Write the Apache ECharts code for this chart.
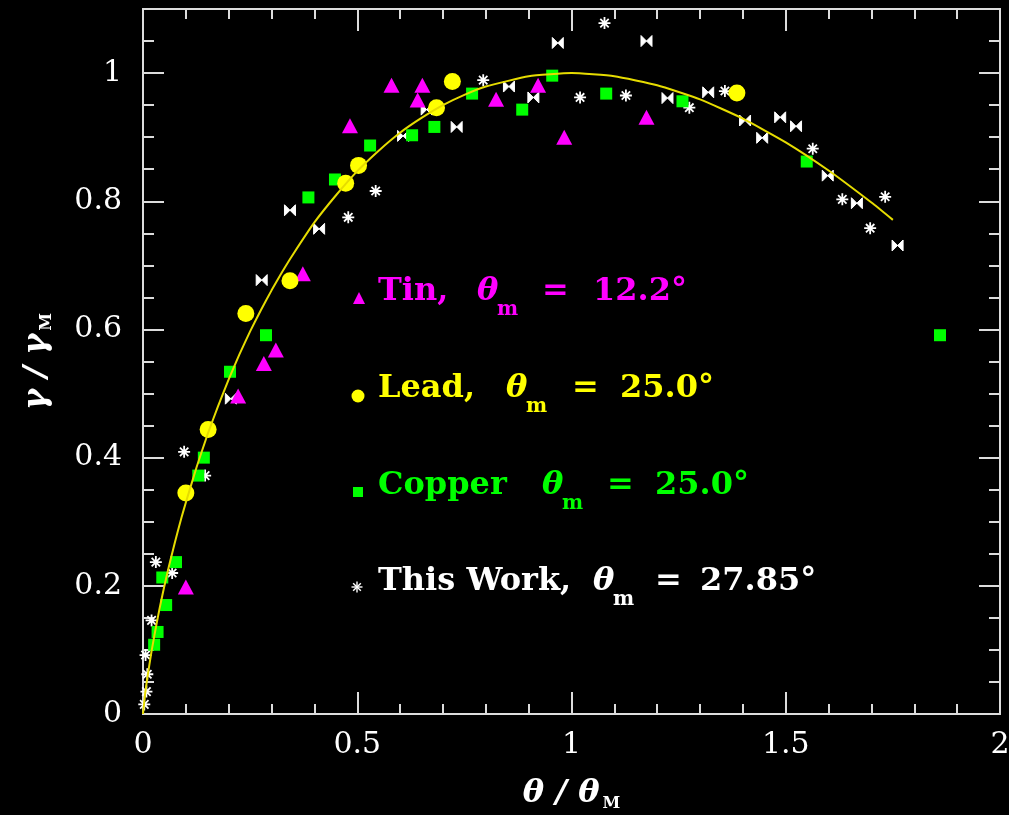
<!DOCTYPE html>
<html>
<head>
<meta charset="utf-8">
<script src="https://cdn.jsdelivr.net/npm/echarts@6/dist/echarts.min.js"></script>
<style>
  html, body { margin: 0; padding: 0; background: #000; overflow: hidden; }
  #chart { width: 1009px; height: 815px; }
</style>
</head>
<body>
<div id="chart"></div>
<script>
// Reduced grain-boundary energy gamma/gamma_M against misorientation theta/theta_M

// Tin, theta_m = 12.2 deg
const tin = [
  [0.100, 0.198], [0.222, 0.496], [0.282, 0.547], [0.310, 0.568], [0.373, 0.687],
  [0.483, 0.918], [0.580, 0.981], [0.641, 0.958], [0.652, 0.981], [0.824, 0.959],
  [0.922, 0.981], [0.983, 0.900], [1.175, 0.931]
];

// Lead, theta_m = 25.0 deg
const lead = [
  [0.100, 0.345], [0.152, 0.444], [0.240, 0.625], [0.343, 0.676], [0.473, 0.828],
  [0.503, 0.856], [0.685, 0.946], [0.722, 0.987], [1.386, 0.969]
];

// Copper, theta_m = 25.0 deg
const copper = [
  [0.026, 0.108], [0.034, 0.128], [0.045, 0.213], [0.054, 0.170], [0.077, 0.237],
  [0.129, 0.372], [0.142, 0.400], [0.203, 0.534], [0.287, 0.591], [0.386, 0.806],
  [0.448, 0.834], [0.530, 0.887], [0.628, 0.903], [0.680, 0.916], [0.768, 0.968],
  [0.885, 0.943], [0.955, 0.996], [1.081, 0.968], [1.259, 0.956], [1.549, 0.862],
  [1.860, 0.591]
];

// This work, theta_m = 27.85 deg (two point styles)
const thisWorkStar = [
  [0.003, 0.015], [0.008, 0.035], [0.010, 0.062], [0.006, 0.092], [0.020, 0.146],
  [0.030, 0.237], [0.068, 0.220], [0.096, 0.409], [0.145, 0.372], [0.479, 0.775],
  [0.543, 0.816], [0.794, 0.989], [1.020, 0.962], [1.077, 1.078], [1.127, 0.965],
  [1.275, 0.946], [1.358, 0.972], [1.563, 0.882], [1.632, 0.803], [1.697, 0.758],
  [1.732, 0.807]
];
const thisWorkBow = [
  [0.205, 0.492], [0.277, 0.677], [0.343, 0.786], [0.411, 0.757], [0.607, 0.902],
  [0.662, 0.943], [0.732, 0.916], [0.854, 0.979], [0.911, 0.962], [0.968, 1.047],
  [1.175, 1.050], [1.224, 0.961], [1.319, 0.970], [1.405, 0.926], [1.445, 0.899],
  [1.487, 0.931], [1.524, 0.917], [1.598, 0.840], [1.666, 0.797], [1.761, 0.731]
];

// Read-Shockley curve, sampled points
const curveX = [0, 0.005, 0.01, 0.02, 0.03, 0.04, 0.05, 0.06, 0.07, 0.08, 0.09, 0.10, 0.125,
  0.15, 0.175, 0.20, 0.225, 0.25, 0.275, 0.30, 0.325, 0.35, 0.40, 0.45, 0.50, 0.55, 0.60, 0.65,
  0.70, 0.75, 0.80, 0.90, 1.00, 1.10, 1.20, 1.30, 1.40, 1.50, 1.60, 1.70, 1.75];
const curveY = [0, 0.032, 0.056, 0.098, 0.135, 0.169, 0.200, 0.229, 0.256, 0.282, 0.307, 0.330, 0.385,
  0.435, 0.480, 0.522, 0.561, 0.597, 0.630, 0.661, 0.690, 0.717, 0.767, 0.809, 0.847, 0.879, 0.907, 0.930,
  0.950, 0.966, 0.979, 0.995, 1.000, 0.995, 0.981, 0.959, 0.929, 0.892, 0.848, 0.798, 0.771];

const xTickLabels = ['0', '0.5', '1', '1.5', '2'];
const yTickLabels = ['0', '0.2', '0.4', '0.6', '0.8', '1'];

const FONT = 'DejaVu Serif';
const FRAME = '#dcdcdc';
const TIN_C = '#ff00ff', LEAD_C = '#ffff00', CU_C = '#00ff00', WORK_C = '#ffffff', CURVE_C = '#e6dc00';

const ASTERISK = 'path://M0,-5L0,5M-5,0L5,0M-3.5,-3.5L3.5,3.5M-3.5,3.5L3.5,-3.5';
const BOWTIE = 'path://M-5,-5L5,5L5,-5L-5,5Z';

function xAxisDef(position, withLabels) {
  return {
    type: 'value', position: position, min: 0, max: 2, interval: 0.5,
    axisLine: { show: true, onZero: false, lineStyle: { color: FRAME, width: 2 } },
    axisTick: { show: true, inside: true, length: 22, lineStyle: { color: FRAME, width: 2 } },
    minorTick: { show: true, splitNumber: 5, length: 10, lineStyle: { color: FRAME, width: 2 } },
    splitLine: { show: false }, minorSplitLine: { show: false },
    axisLabel: {
      show: withLabels, margin: 16, color: '#fff', fontFamily: FONT, fontSize: 30,
      formatter: v => xTickLabels[Math.round(v / 0.5)] ?? ''
    },
    name: withLabels ? '{a|θ / θ}{s|M}' : '', nameLocation: 'middle', nameGap: 62,
    nameTextStyle: {
      rich: {
        a: { color: '#fff', fontFamily: FONT, fontSize: 32, fontWeight: 'bold', fontStyle: 'italic' },
        s: { color: '#fff', fontFamily: FONT, fontSize: 16, fontWeight: 'bold', padding: [20, 0, 0, 3] }
      }
    }
  };
}

function yAxisDef(position, major, withLabels) {
  return {
    type: 'value', position: position, min: 0, max: 1.1, interval: major ? 0.2 : 0.05,
    axisLine: { show: true, onZero: false, lineStyle: { color: FRAME, width: 2 } },
    axisTick: { show: true, inside: true, length: major ? 21 : 11, lineStyle: { color: FRAME, width: 2 } },
    splitLine: { show: false },
    axisLabel: {
      show: withLabels, margin: 21, color: '#fff', fontFamily: FONT, fontSize: 30,
      formatter: v => (v > 1.05 ? '' : (yTickLabels[Math.round(v / 0.2)] ?? ''))
    },
    name: withLabels ? '{a|γ / γ}{s|M}' : '', nameLocation: 'middle', nameGap: 88,
    nameTextStyle: {
      rich: {
        a: { color: '#fff', fontFamily: FONT, fontSize: 32, fontWeight: 'bold', fontStyle: 'italic' },
        s: { color: '#fff', fontFamily: FONT, fontSize: 16, fontWeight: 'bold', padding: [20, 0, 0, 3] }
      }
    }
  };
}

const chart = echarts.init(document.getElementById('chart'), null, { renderer: 'canvas' });

chart.setOption({
  backgroundColor: '#000',
  animation: false,
  grid: { left: 143, right: 9, top: 9, bottom: 101, containLabel: false, outerBoundsMode: 'none' },
  xAxis: [xAxisDef('bottom', true), xAxisDef('top', false)],
  yAxis: [
    yAxisDef('left', true, true), yAxisDef('left', false, false),
    yAxisDef('right', true, false), yAxisDef('right', false, false)
  ],
  series: [
    {
      name: 'This Work', type: 'scatter', data: thisWorkStar, symbol: ASTERISK, symbolSize: 12,
      itemStyle: { color: 'rgba(0,0,0,0)', borderColor: WORK_C, borderWidth: 1.8, opacity: 1 }, z: 2
    },
    {
      name: 'This Work ', type: 'scatter', data: thisWorkBow, symbol: BOWTIE, symbolSize: [11, 11],
      itemStyle: { color: WORK_C, borderColor: WORK_C, borderWidth: 1, opacity: 1 }, z: 2
    },
    {
      name: 'Copper', type: 'scatter', data: copper, symbol: 'rect', symbolSize: 12,
      itemStyle: { color: CU_C, opacity: 1 }, z: 3
    },
    {
      name: 'Tin', type: 'scatter', data: tin, symbol: 'triangle', symbolSize: [16, 15],
      itemStyle: { color: TIN_C, opacity: 1 }, z: 4
    },
    {
      name: 'Lead', type: 'scatter', data: lead, symbol: 'circle', symbolSize: 17,
      itemStyle: { color: LEAD_C, opacity: 1 }, z: 5
    },
    {
      name: 'Read-Shockley', type: 'line', data: curveX.map((x, i) => [x, curveY[i]]),
      smooth: 0.15, showSymbol: false, symbol: 'none',
      lineStyle: { color: CURVE_C, width: 2 }, z: 6
    }
  ]
});

// Key text drawn inside the plot
const bold = size => 'bold ' + size + 'px "' + FONT + '"';
const italic = size => 'italic bold ' + size + 'px "' + FONT + '"';

function textEl(str, x, y, color, font) {
  return { type: 'text', x: x, y: y, z: 20,
    style: { text: str, fill: color, font: font, textAlign: 'left', textVerticalAlign: 'middle' } };
}

function keyRow(cfg) {
  const els = [];
  const cy = cfg.y;
  els.push(cfg.marker);
  els.push(textEl(cfg.label, 378, cy, cfg.color, bold(32)));
  els.push(textEl('θ', cfg.thetaX, cy, cfg.color, italic(32)));
  els.push(textEl('m', cfg.thetaX + 20, cy + 18, cfg.color, bold(20)));
  els.push(textEl('=', cfg.eqX, cy, cfg.color, bold(32)));
  els.push(textEl(cfg.value, cfg.valX, cy, cfg.color, bold(32)));
  return els;
}

function asteriskEl(cx, cy, r, color) {
  const d = r * 0.7;
  const segs = [[0, -r, 0, r], [-r, 0, r, 0], [-d, -d, d, d], [-d, d, d, -d]];
  return {
    type: 'group', z: 20,
    children: segs.map(s => ({
      type: 'line', shape: { x1: cx + s[0], y1: cy + s[1], x2: cx + s[2], y2: cy + s[3] },
      style: { stroke: color, lineWidth: 1.4 }
    }))
  };
}

const rows = [
  { label: 'Tin,', color: TIN_C, y: 292, thetaX: 477, eqX: 542, valX: 593, value: '12.2°',
    marker: { type: 'polygon', z: 20, shape: { points: [[359, 292], [365, 304], [353, 304]] }, style: { fill: TIN_C } } },
  { label: 'Lead,', color: LEAD_C, y: 389, thetaX: 506, eqX: 572, valX: 620, value: '25.0°',
    marker: { type: 'circle', z: 20, shape: { cx: 358, cy: 396, r: 6.5 }, style: { fill: LEAD_C } } },
  { label: 'Copper', color: CU_C, y: 486, thetaX: 542, eqX: 607, valX: 655, value: '25.0°',
    marker: { type: 'rect', z: 20, shape: { x: 353, y: 487, width: 10, height: 10 }, style: { fill: CU_C } } },
  { label: 'This Work,', color: WORK_C, y: 582, thetaX: 593, eqX: 655, valX: 700, value: '27.85°',
    marker: asteriskEl(357, 587, 5.5, WORK_C) }
];

chart.setOption({ graphic: rows.flatMap(keyRow) });
</script>
</body>
</html>
